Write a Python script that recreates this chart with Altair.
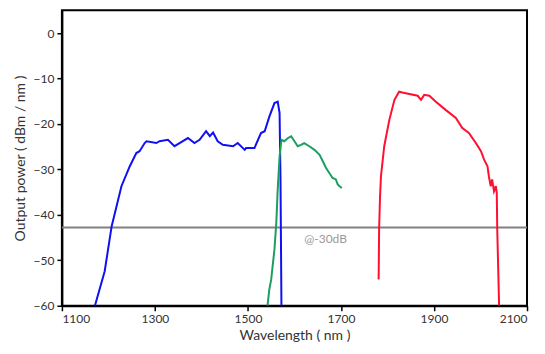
import altair as alt
import pandas as pd

blue_x = [1171, 1192, 1207, 1228, 1246, 1260, 1267, 1278, 1282, 1303, 1310, 1328, 1342, 1353, 1371, 1385, 1396, 1410, 1418, 1425, 1435, 1446, 1468, 1478, 1493, 1496, 1514, 1528, 1536, 1546, 1557, 1564, 1568, 1570, 1572]
blue_y = [-60, -52.4, -42.5, -33.7, -29.3, -26.4, -26.0, -24.2, -23.8, -24.2, -23.8, -23.5, -24.9, -24.2, -23.1, -24.2, -23.5, -21.6, -22.7, -21.9, -23.8, -24.6, -24.9, -24.2, -25.7, -25.3, -25.3, -22.0, -21.6, -18.4, -15.4, -15.1, -17.6, -32.2, -60]

green_x = [1542, 1546, 1550, 1557, 1561, 1564, 1568, 1572, 1578, 1586, 1593, 1600, 1607, 1614, 1621, 1632, 1643, 1654, 1661, 1668, 1675, 1682, 1689, 1693, 1697, 1702]
green_y = [-60, -56.4, -54.2, -47.6, -41.7, -34.4, -27.1, -23.5, -23.8, -23.1, -22.7, -23.8, -24.9, -24.6, -24.2, -24.9, -25.7, -26.8, -28.2, -29.7, -30.8, -31.9, -32.2, -33.3, -33.7, -34.1]

red_x = [1781, 1782, 1784, 1786, 1793, 1804, 1815, 1825, 1832, 1847, 1865, 1872, 1879, 1890, 1904, 1925, 1947, 1961, 1975, 1990, 2001, 2008, 2015, 2018, 2022, 2025, 2029, 2033, 2035, 2036, 2040]
red_y = [-54.2, -43.2, -35.9, -31.5, -24.9, -19.1, -14.7, -12.9, -13.1, -13.4, -13.8, -14.7, -13.6, -13.8, -15.1, -16.9, -18.7, -20.9, -22.0, -24.2, -26.0, -27.9, -29.3, -31.5, -33.7, -32.2, -34.8, -33.7, -35.2, -43.2, -60]

ref_level = -42.8
ref_label = "@-30dB"
label_x = 1621
label_y = -45.4

x_ticks = [1100, 1300, 1500, 1700, 1900, 2100]
y_ticks = [-60, -50, -40, -30, -20, -10, 0]

series = ["blue", "green", "red"]
colors = ["#1010f0", "#1c9e62", "#ff1030"]

rows = []
for name, xs, ys in [("blue", blue_x, blue_y), ("green", green_x, green_y), ("red", red_x, red_y)]:
    for i, (a, b) in enumerate(zip(xs, ys)):
        rows.append({"series": name, "wl": a, "p": b, "i": i})
df = pd.DataFrame(rows)

font = "Lato"
xscale = alt.Scale(domain=[1100, 2100], nice=False)
yscale = alt.Scale(domain=[-60, 5], nice=False)

lines = alt.Chart(df).mark_line(strokeWidth=2, clip=True).encode(
    x=alt.X("wl:Q", scale=xscale,
            axis=alt.Axis(values=x_ticks, format="d", title="Wavelength ( nm )", grid=False,
                          tickColor="black", domainColor="black", domainWidth=2,
                          tickSize=5, tickWidth=1.5, labelFontSize=12, labelColor="#333",
                          titleFontSize=14, titleFontWeight="normal", titleColor="#333",
                          labelFont=font, titleFont=font, titlePadding=4, labelPadding=3)),
    y=alt.Y("p:Q", scale=yscale,
            axis=alt.Axis(values=y_ticks, format="d", title="Output power ( dBm / nm )", grid=False,
                          tickColor="black", domainColor="black", domainWidth=2,
                          tickSize=5, tickWidth=1.5, labelFontSize=12, labelColor="#333",
                          titleFontSize=14, titleFontWeight="normal", titleColor="#333",
                          labelFont=font, titleFont=font, titlePadding=6, labelPadding=3)),
    color=alt.Color("series:N", scale=alt.Scale(domain=series, range=colors), legend=None),
    order="i:Q",
)

rule = alt.Chart(pd.DataFrame({"p": [ref_level]})).mark_rule(color="#808080", strokeWidth=2).encode(
    y=alt.Y("p:Q", scale=yscale)
)

txt = alt.Chart(pd.DataFrame({"wl": [label_x], "p": [label_y], "t": [ref_label]})).mark_text(
    align="left", baseline="middle", color="#9a9a9a", fontSize=12, font=font
).encode(x=alt.X("wl:Q", scale=xscale), y=alt.Y("p:Q", scale=yscale), text="t:N")

chart = alt.layer(rule, lines, txt).properties(
    width=466, height=296,
    autosize=alt.AutoSizeParams(type="none"),
    padding={"left": 54, "top": 2, "right": 10, "bottom": 40},
    background="white",
).configure_view(stroke="black", strokeWidth=2)

chart.save("out.html", embed_options={"renderer": "svg", "actions": False})
